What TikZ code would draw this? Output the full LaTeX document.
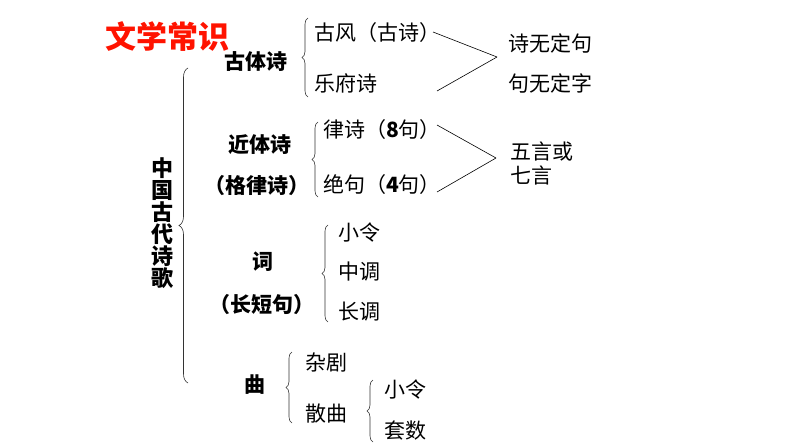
\documentclass[tikz,border=0pt]{standalone}
\usepackage{fontspec}
\setmainfont{Noto Sans CJK SC}
\usetikzlibrary{decorations.pathreplacing}
\begin{document}
\begin{tikzpicture}[x=1pt,y=-1pt,
  t/.style={font=\fontsize{21}{24}\selectfont, inner sep=0pt},
  b/.style={font=\fontsize{21}{24}\selectfont\bfseries, inner sep=0pt},
  br/.style={draw=black!80, line width=0.6pt, decorate, decoration={brace, amplitude=6pt}},
  ln/.style={draw, line width=0.6pt}]
\useasboundingbox (0,0) rectangle (794,447);
\node (title) [font=\fontsize{31}{34}\selectfont\bfseries, text=red!85!orange, inner sep=0pt] at (167,37) {文学常识};
% vertical root
\node (root) [font=\fontsize{22}{25}\selectfont\bfseries, inner sep=0pt, align=center] at (162,223) {中\\[-3pt]国\\[-3pt]古\\[-3pt]代\\[-3pt]诗\\[-3pt]歌};
\draw[br, decoration={amplitude=9pt}] (188,383) -- (188,68);
% gu ti shi
\node (gts) [b] at (256,62) {古体诗};
\draw[br] (308,97) -- (308,18);
\node (gf) [t, anchor=west] at (314,33) {古风（古诗）};
\node (yf) [t, anchor=west] at (314,83) {乐府诗};
\coordinate (m1) at (497,57);
\draw[ln] (433,32) -- (m1);
\draw[ln] (437,91) -- (m1);
\node (s1) [t, anchor=west] at (508,43) {诗无定句};
\node (s2) [t, anchor=west] at (508,83) {句无定字};
% jin ti shi
\node (jts) [b] at (260,145) {近体诗};
\node (gls) [b] at (257,186) {（格律诗）};
\draw[br] (318,197) -- (318,122);
\node (ls) [t, anchor=west] at (323,130) {律诗（\textbf{8}句）};
\node (jj) [t, anchor=west] at (323,185) {绝句（\textbf{4}句）};
\coordinate (m2) at (496,158);
\draw[ln] (437,125) -- (m2);
\draw[ln] (437,192) -- (m2);
\node (wy) [t, anchor=west, align=left] at (510,163) {五言或\\七言};
% ci
\node (ci) [b] at (263,262) {词};
\node (cdj) [b] at (262,305) {（长短句）};
\draw[br] (328,322) -- (328,225);
\node (xl) [t, anchor=west] at (338,233) {小令};
\node (zd) [t, anchor=west] at (338,272) {中调};
\node (cd) [t, anchor=west] at (338,312) {长调};
% qu
\node (qu) [b] at (255,385) {曲};
\draw[br] (292,423) -- (292,352);
\node (zj) [t, anchor=west] at (305,363) {杂剧};
\node (sq) [t, anchor=west] at (305,414) {散曲};
\draw[br] (373,442) -- (373,380);
\node (xl2) [t, anchor=west] at (384,390) {小令};
\node (ts) [t, anchor=west] at (384,431) {套数};
\end{tikzpicture}
\end{document}
